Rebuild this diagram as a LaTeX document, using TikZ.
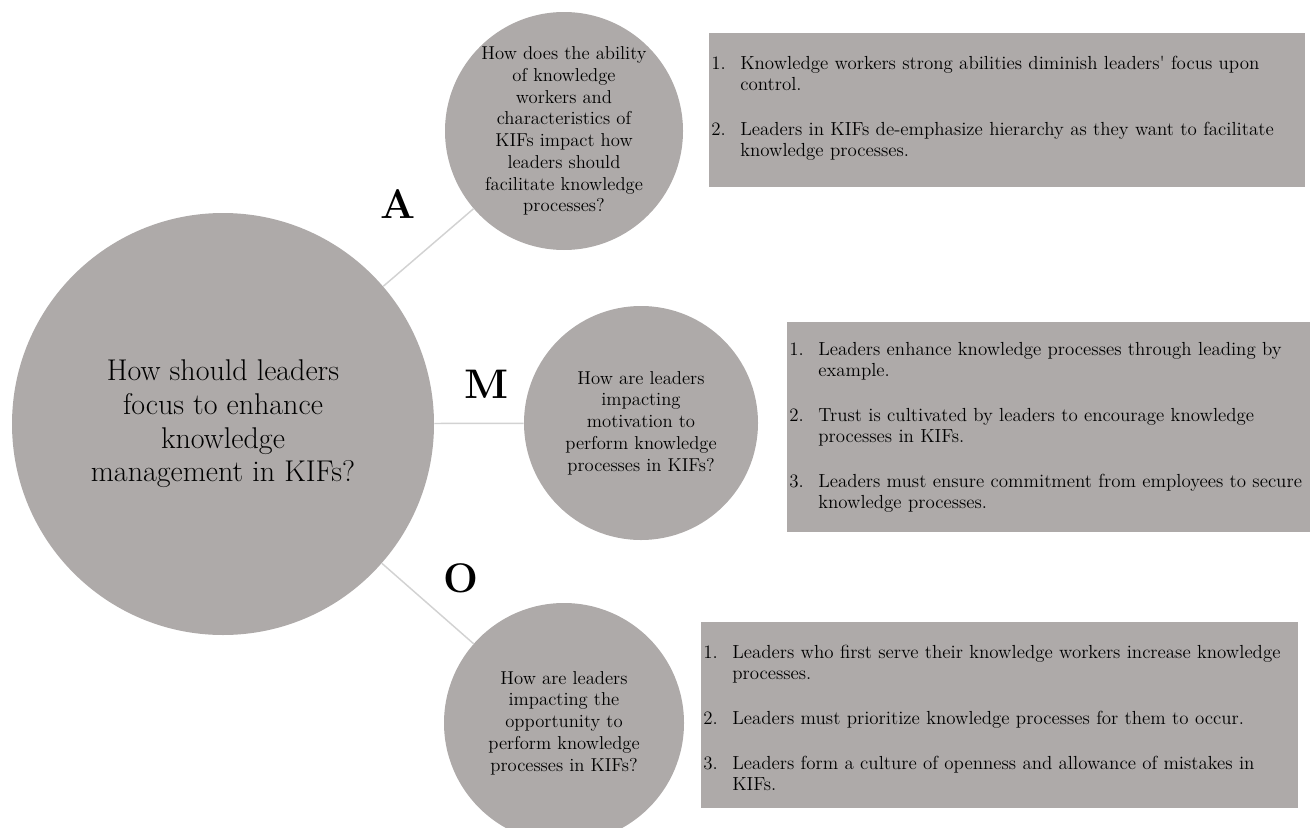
\documentclass[tikz,border=0pt]{standalone}
\usepackage{fontspec}
\usetikzlibrary{positioning}

\definecolor{bubble}{RGB}{174,170,169}
\definecolor{spoke}{RGB}{210,210,210}

% one numbered entry with a hanging indent
\newcommand{\entry}[2]{\par\noindent\hangindent=21.75pt\hangafter=1\makebox[21.75pt][l]{#1}#2\par}

\tikzset{
  hub/.style={circle, fill=bubble, inner sep=0pt, minimum size=316.5pt,
    align=center, font=\fontsize{22.5}{25.2}\selectfont},
  question/.style={circle, fill=bubble, inner sep=0pt, align=center,
    font=\fontsize{14}{16.3}\selectfont},
  letter/.style={font=\fontsize{31}{31}\selectfont\bfseries, inner sep=0pt},
  panel/.style={rectangle, fill=bubble, inner sep=0pt, anchor=north west},
  listtext/.style={anchor=north west, inner sep=0pt, align=left,
    font=\fontsize{14.2}{15.75}\selectfont},
  spokeline/.style={draw=spoke, line width=1.1pt}
}

\begin{document}
\begin{tikzpicture}[x=0.75pt, y=-0.75pt]
\useasboundingbox (0,0) rectangle (1310,828);

% central question
\node[hub] (hub) at (223,424) {How should leaders\\focus to enhance\\knowledge\\management in KIFs?};

% the three sub-questions
\node[question, minimum size=178.5pt] (qa) at (564,131)
  {How does the ability\\of knowledge\\workers and\\characteristics of\\KIFs impact how\\leaders should\\facilitate knowledge\\processes?};
\node[question, minimum size=175.5pt] (qm) at (641,423)
  {How are leaders\\impacting\\motivation to\\perform knowledge\\processes in KIFs?};
\node[question, minimum size=180pt] (qo) at (564,723)
  {How are leaders\\impacting the\\opportunity to\\perform knowledge\\processes in KIFs?};

% spokes
\draw[spokeline] (hub) -- (qa);
\draw[spokeline] (hub) -- (qm);
\draw[spokeline] (hub) -- (qo);

% spoke letters
\node[letter] (la) at (398,204) {A};
\node[letter] (lm) at (487,384) {M};
\node[letter] (lo) at (461,578) {O};

% answer panels
\node[panel, minimum width=447pt, minimum height=115.5pt] (pa) at (709,33) {};
\node[panel, minimum width=392.25pt, minimum height=157.5pt] (pm) at (787,322) {};
\node[panel, minimum width=447.75pt, minimum height=139.5pt] (po) at (701,622) {};

\node[listtext, text width=440pt] (ta) at ([shift={(2,15)}]pa.north west) {%
  \entry{1.}{Knowledge workers strong abilities diminish leaders\textquotesingle{} focus upon\newline control.}%
  \vspace{18pt}%
  \entry{2.}{Leaders in KIFs de-emphasize hierarchy as they want to facilitate\newline knowledge processes.}};

\node[listtext, text width=388pt] (tm) at ([shift={(2,12)}]pm.north west) {%
  \entry{1.}{Leaders enhance knowledge processes through leading by\newline example.}%
  \vspace{18pt}%
  \entry{2.}{Trust is cultivated by leaders to encourage knowledge\newline processes in KIFs.}%
  \vspace{18pt}%
  \entry{3.}{Leaders must ensure commitment from employees to secure\newline knowledge processes.}};

\node[listtext, text width=444pt] (to) at ([shift={(2,15)}]po.north west) {%
  \entry{1.}{Leaders who first serve their knowledge workers increase knowledge\newline processes.}%
  \vspace{18pt}%
  \entry{2.}{Leaders must prioritize knowledge processes for them to occur.}%
  \vspace{18pt}%
  \entry{3.}{Leaders form a culture of openness and allowance of mistakes in\newline KIFs.}};
\end{tikzpicture}
\end{document}
